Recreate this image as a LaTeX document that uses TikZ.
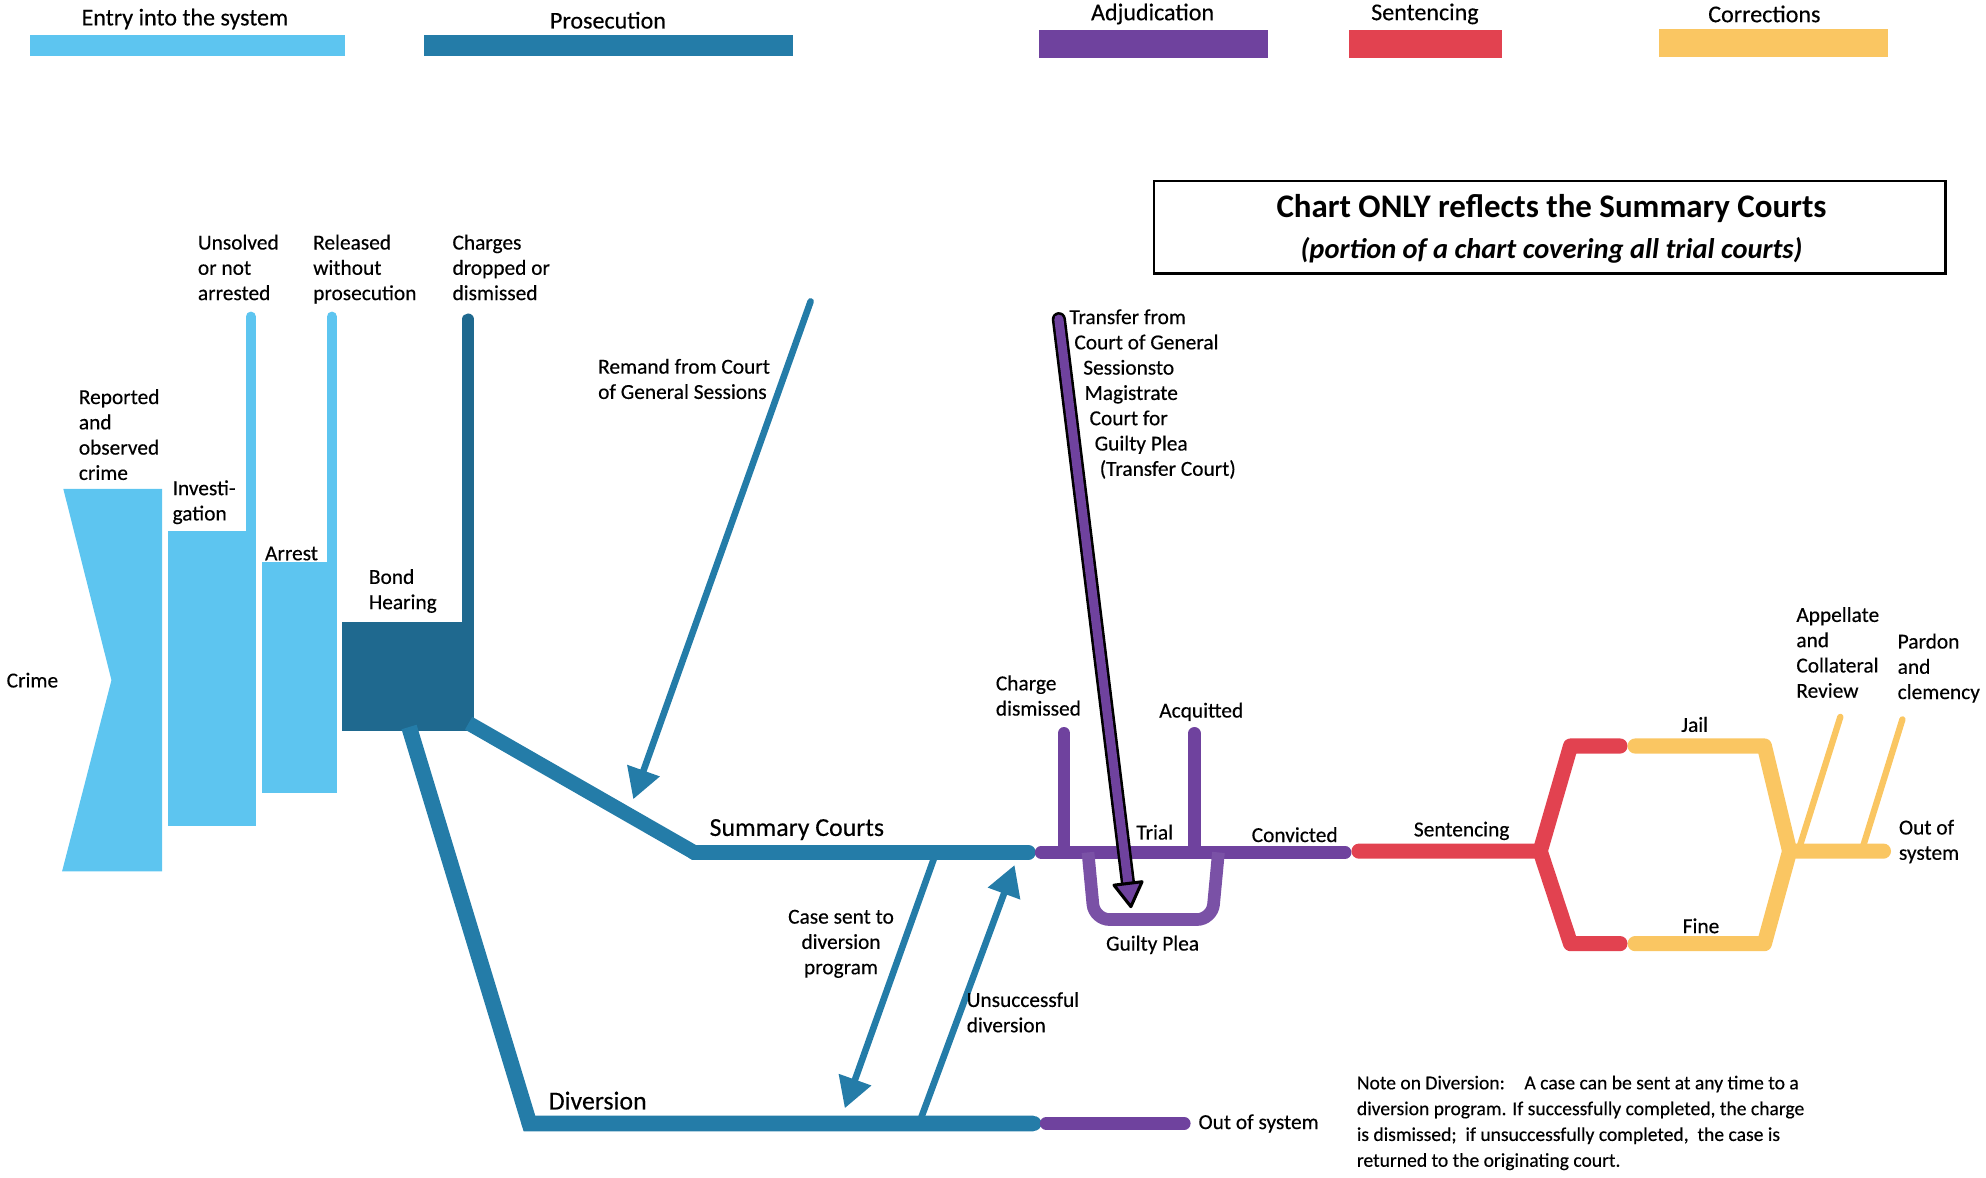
\documentclass[tikz,border=0pt]{standalone}
\usepackage{fontspec}
\setmainfont{Carlito}
\newfontfamily\lblfont{Carlito}[FakeBold=0.35]
\usetikzlibrary{arrows.meta, calc, positioning}
\definecolor{color1}{RGB}{93,197,240}
\definecolor{color2}{RGB}{36,124,168}
\definecolor{color3}{RGB}{111,66,158}
\definecolor{color4}{RGB}{226,66,80}
\definecolor{color5}{RGB}{250,198,98}
\tikzset{
	lbl/.style={inner sep=0pt, align=left, anchor=north west, font=\lblfont\fontsize{12}{14.2}\selectfont},
	big/.style={inner sep=0pt, anchor=west, font=\lblfont\fontsize{14.5}{17}\selectfont},
	legend/.style={inner sep=0pt, font=\lblfont\fontsize{13.5}{16}\selectfont},
	band/.style={line width=#1, line cap=round},
	band/.default=2.9mm,
	tip/.style={-{Triangle[length=6mm, width=6.5mm]}}
}

\begin{document}
\begin{tikzpicture}[x=0.25mm, y=-0.25mm]
		\useasboundingbox (0,0) rectangle (1568,930);
		
		% legend
		\foreach \xa/\xb/\ya/\yb/\xt/\yt/\col/\txt [count=\i] in {
			24/272/28/44/146/15/color1/Entry into the system,
			335/626/28/44/480/16/color2/Prosecution,
			820/1001/24/46/910/11/color3/Adjudication,
			1065/1186/24/46/1125/11/color4/Sentencing,
			1310/1491/23/45/1393/11/color5/Corrections}{
			\fill[\col] (\xa,\ya) rectangle (\xb,\yb);
			\node[legend] (leg\i) at (\xt,\yt) {\txt};
		}
		
		% title box
		\draw[line width=0.45mm] (911,143) rectangle (1536,216);
		\node[inner sep=0pt, font=\fontsize{18.5}{22}\selectfont\bfseries] (title) at (1225,165) {Chart ONLY reflects the Summary Courts};
		\node[inner sep=0pt, font=\fontsize{16}{19}\selectfont\bfseries\itshape] (subtitle) at (1225,198) {(portion of a chart covering all trial courts)};
		
		% entry into the system
		\fill[color1] (50,386) -- (128,386) -- (128,688) -- (49,688) -- (88,537) -- cycle;
		\fill[color1] (133,419) rectangle (202,652);
		\fill[color1] (207,444) rectangle (266,626);
		\draw[color1, band=2mm] (198,419) -- (198,250);
		\draw[color1, band=2mm] (262,444) -- (262,250);
		
		% prosecution
		\fill[color2!85!black] (270,491) rectangle (374,577);
		\draw[color2!85!black, band=2.25mm] (369.5,491) -- (369.5,252);
		\coordinate (bh1) at (370,571);
		\coordinate (bh2) at (323,574);
		\coordinate (sc1) at (548,673);
		\coordinate (sc2) at (812,673);
		\coordinate (dv1) at (418,887);
		\coordinate (dv2) at (816,887);
		\draw[color2, line width=2.9mm] (bh1) -- (sc1) -- (sc2);
		\draw[color2, band] (sc1) -- (sc2);
		\draw[color2, line width=3.1mm] (bh2) -- (dv1) -- (dv2);
		\draw[color2, band=3.1mm] (dv1) -- (dv2);
		
		\coordinate (rm0) at (640,238);
		\coordinate (rm1) at (500,631);
		\draw[color2, line width=1.3mm, line cap=round, tip] (rm0) -- (rm1);
		\coordinate (cs0) at (738,676);
		\coordinate (cs1) at (667,875);
		\draw[color2, line width=1.3mm, tip] (cs0) -- (cs1);
		\coordinate (us0) at (726,886);
		\coordinate (us1) at (801,683);
		\draw[color2, line width=1.3mm, tip] (us0) -- (us1);
		
		% adjudication
		\coordinate (ad0) at (822,673);
		\coordinate (ad1) at (1062,673);
		\draw[color3, band=2.5mm] (ad0) -- (ad1);
		\draw[color3, band=2.5mm] (840,673) -- (840,579);
		\draw[color3, band=2.5mm] (943,673) -- (943,579);
		\draw[color3!92!white, line width=2.5mm, rounded corners=3mm] (859,673) -- (864,726) -- (957,726) -- (962,673);
		\draw[color3, band=2.5mm] (826,887) -- (935,887);
		
		\coordinate (tr0) at (836,252);
		\coordinate (tr1) at (893,717);
		\draw[black, band=2.8mm, shorten >=5mm] (tr0) -- (tr1);
		\draw[color3, band=1.8mm, -{Triangle[length=5.5mm, width=6.5mm, color=black, fill=color3, line width=0.6mm, round]}] (tr0) -- (tr1);
		
		% sentencing
		\coordinate (st0) at (1073,672);
		\coordinate (st1) at (1216,672);
		\draw[color4, band=3mm, line join=round] (st0) -- (st1) -- (1240,589) -- (1279,589);
		\draw[color4, band=3mm, line join=round] (st1) -- (1240,745) -- (1279,745);
		
		% corrections
		\coordinate (co1) at (1413,672);
		\draw[color5, band=3mm, line join=round] (1291,589) -- (1393,589) -- (co1);
		\draw[color5, band=3mm, line join=round] (1291,745) -- (1393,745) -- (co1) -- (1487,672);
		\draw[color5, band=1.25mm] (1421,668) -- (1453,566);
		\draw[color5, band=1.25mm] (1471,668) -- (1502,568);
		
		% labels
		\node[lbl, anchor=west] (crime) at (5,537) {Crime};
		\node[lbl] (reported) at (62,307) {Reported\\and\\observed\\crime};
		\node[lbl] (investi) at (136,379) {Investi-\\gation};
		\node[lbl, anchor=west] (arrest) at (209,437) {Arrest};
		\node[lbl] (bond) at (291,449) {Bond\\Hearing};
		\node[lbl] (unsolved) at (156,185) {Unsolved\\or not\\arrested};
		\node[lbl] (released) at (247,185) {Released\\without\\prosecution};
		\node[lbl] (charges) at (357,185) {Charges\\dropped or\\dismissed};
		\node[lbl] (remand) at (472,283) {Remand from Court\\of General Sessions};
		\node[big] (summary) at (560,655) {Summary Courts};
		\node[big] (diversion) at (433,869) {Diversion};
		\node[lbl, anchor=north, align=center] (casesent) at (664,718) {Case sent to\\diversion\\program};
		\node[lbl] (unsucc) at (763,783) {Unsuccessful\\diversion};
		\node[lbl] (chargedis) at (786,533) {Charge\\dismissed};
		\node[lbl, anchor=west] (acquitted) at (915,562) {Acquitted};
		\node[lbl, anchor=west] (trial) at (897,657) {Trial};
		\node[lbl, anchor=west] (convicted) at (988,659) {Convicted};
		\node[lbl, anchor=center] (guilty) at (910,746) {Guilty Plea};
		\node[lbl] (transfer) at (844,244) {Transfer from\\\hspace*{1mm}Court of General\\\hspace*{2.75mm}Sessionsto\\\hspace*{3mm}Magistrate\\\hspace*{4mm}Court for\\\hspace*{5mm}Guilty Plea\\\hspace*{6mm}(Transfer Court)};
		\node[lbl, anchor=west] (outsys) at (946,887) {Out of system};
		\node[lbl, anchor=center] (sentencing) at (1154,656) {Sentencing};
		\node[lbl, anchor=center] (jail) at (1338,572) {Jail};
		\node[lbl, anchor=center] (fine) at (1343,731) {Fine};
		\node[lbl] (appellate) at (1418,479) {Appellate\\and\\Collateral\\Review};
		\node[lbl] (pardon) at (1498,500) {Pardon\\and\\clemency};
		\node[lbl] (outsys2) at (1499,647) {Out of\\system};
		\node[lbl, font=\lblfont\fontsize{11}{14.5}\selectfont] (note) at (1071,849) {Note on Diversion:\quad A case can be sent at any time to a\\diversion program. If successfully completed, the charge\\is dismissed;\ \ if unsuccessfully completed,\ \ the case is\\returned to the originating court.};
		
		\end{tikzpicture}
\end{document}
